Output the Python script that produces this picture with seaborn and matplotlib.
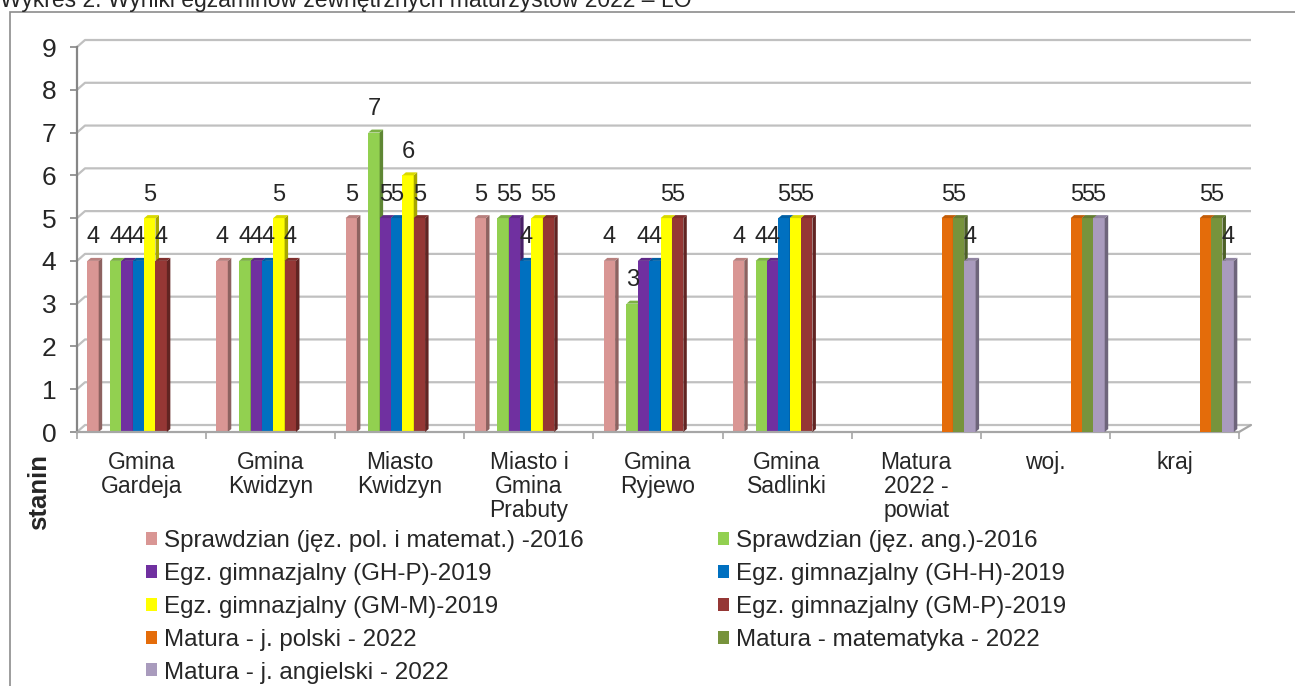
import seaborn as sns
import matplotlib.pyplot as plt
import matplotlib.colors as mcolors
from matplotlib.patches import Patch, Polygon, Rectangle
import pandas as pd
import numpy as np

# Data (stanin per area, NaN = no bar)
areas = ['Gmina Gardeja', 'Gmina Kwidzyn', 'Miasto Kwidzyn', 'Miasto i Gmina Prabuty',
         'Gmina Ryjewo', 'Gmina Sadlinki', 'Matura 2022 - powiat', 'woj.', 'kraj']
tick_labels = ['Gmina\nGardeja', 'Gmina\nKwidzyn', 'Miasto\nKwidzyn', 'Miasto i\nGmina\nPrabuty',
               'Gmina\nRyjewo', 'Gmina\nSadlinki', 'Matura\n2022 -\npowiat', 'woj.', 'kraj']

series = ['Sprawdzian (jęz. pol. i matemat.) -2016', 'Sprawdzian (jęz. ang.)-2016',
          'Egz. gimnazjalny (GH-P)-2019', 'Egz. gimnazjalny (GH-H)-2019',
          'Egz. gimnazjalny (GM-M)-2019', 'Egz. gimnazjalny (GM-P)-2019',
          'Matura - j. polski - 2022', 'Matura - matematyka - 2022', 'Matura - j. angielski - 2022']
colors = ['#D99694', '#92D050', '#7030A0', '#0070C0', '#FFFF00', '#953735',
          '#E46C0A', '#77933C', '#A99BBD']

nan = np.nan
spr_pol = [4, 4, 5, 5, 4, 4, nan, nan, nan]
spr_ang = [4, 4, 7, 5, 3, 4, nan, nan, nan]
gh_p = [4, 4, 5, 5, 4, 4, nan, nan, nan]
gh_h = [4, 4, 5, 4, 4, 5, nan, nan, nan]
gm_m = [5, 5, 6, 5, 5, 5, nan, nan, nan]
gm_p = [4, 4, 5, 5, 5, 5, nan, nan, nan]
mat_pol = [nan, nan, nan, nan, nan, nan, 5, 5, 5]
mat_mat = [nan, nan, nan, nan, nan, nan, 5, 5, 5]
mat_ang = [nan, nan, nan, nan, nan, nan, 4, 5, 4]
values = [spr_pol, spr_ang, gh_p, gh_h, gm_m, gm_p, mat_pol, mat_mat, mat_ang]

rows = []
for name, vals in zip(series, values):
    for area, v in zip(areas, vals):
        rows.append({'area': area, 'series': name, 'stanin': v})
df = pd.DataFrame(rows).dropna()

sns.set_style('white')
plt.rcParams['font.family'] = ['Liberation Sans', 'DejaVu Sans']

W, H = 1295, 686
fig = plt.figure(figsize=(W / 100, H / 100), dpi=100)
ax = fig.add_axes([77 / W, (H - 432) / H, 1162 / W, 385 / H])

# Excel leaves an empty slot after the first series
blank = ' '
hue_order = [series[0], blank] + series[1:]
palette = dict(zip(series, colors))
palette[blank] = 'white'

sns.barplot(data=df, x='area', y='stanin', hue='series', order=areas, hue_order=hue_order,
            palette=palette, width=0.88, errorbar=None, legend=False, saturation=1,
            linewidth=0, ax=ax)

shift = 0.02
ax.set_xlim(-0.5 - shift, len(areas) - 0.5 - shift)
ax.set_ylim(0, 9)

# pseudo-3D faces on the bars
col_idx = {mcolors.to_hex(c): i for i, c in enumerate(colors)}
dx, dy = 0.027, 0.07
for p in list(ax.patches):
    h = p.get_height()
    if not np.isfinite(h) or h <= 0:
        continue
    i = col_idx[mcolors.to_hex(p.get_facecolor())]
    z = 2 + i * 0.1
    p.set_zorder(z)
    x0 = p.get_x()
    x1 = x0 + p.get_width()
    base = np.array(mcolors.to_rgb(colors[i]))
    side = Polygon([(x1, 0), (x1 + dx, dy), (x1 + dx, h + dy), (x1, h)],
                   facecolor=base * 0.65, edgecolor='none', zorder=z + 0.05)
    top = Polygon([(x0, h), (x0 + dx, h + dy), (x1 + dx, h + dy), (x1, h)],
                  facecolor=base * 0.85, edgecolor='none', zorder=z + 0.05)
    ax.add_patch(side)
    ax.add_patch(top)

for c in ax.containers:
    ax.bar_label(c, fmt='%g', padding=9, fontsize=17, zorder=5)

# back wall gridlines
xl, xr = ax.get_xlim()
gx = 8 / 129.1
gxr = 12 / 129.1
gy = 7 / 42.8
for v in range(10):
    ax.plot([xl, xl + gx, xr + gxr], [v, v + gy, v + gy], color='#C0C0C0', lw=1.6,
            zorder=0.5, clip_on=False, solid_capstyle='butt')
ax.plot([xr, xr + gxr], [0, gy], color='#A6A6A6', lw=1.6, zorder=0.6, clip_on=False)

ax.grid(False)
for s in ['top', 'right']:
    ax.spines[s].set_visible(False)
ax.spines['left'].set_color('#868686')
ax.spines['left'].set_linewidth(1.6)
ax.spines['bottom'].set_color('#A6A6A6')
ax.spines['bottom'].set_linewidth(1.6)

ax.set_yticks(range(10))
ax.tick_params(axis='y', direction='out', length=5, width=1.2, color='#868686',
               labelsize=19, pad=10, left=True)
ax.set_xticks(np.arange(len(areas)) - shift)
ax.set_xticklabels(tick_labels, fontsize=16.5, linespacing=1.05, va='top')
ax.set_xticks(np.arange(len(areas) + 1) - 0.5 - shift, minor=True)
ax.tick_params(axis='x', which='major', length=0, pad=14)
ax.tick_params(axis='x', which='minor', direction='out', length=5, width=1.2,
               color='#A6A6A6', bottom=True)
ax.set_xlabel('')
ax.set_ylabel('')

fig.text(39 / W, 1 - 492 / H, 'stanin', rotation=90, fontsize=18.5, fontweight='bold',
         ha='center', va='center')
fig.text(0, 1 - 7 / H, 'Wykres 2. Wyniki egzaminów zewnętrznych maturzystów 2022 – LO',
         fontsize=16.5, va='baseline', ha='left')
fig.add_artist(Rectangle((10 / W, -0.1), 1.2, 1.1 - 12 / H, transform=fig.transFigure,
                         fill=False, edgecolor='#8C8C8C', lw=1.2))

handles = [Patch(facecolor=c, edgecolor='none') for c in colors]
order = [0, 2, 4, 6, 8, 1, 3, 5, 7]
fig.legend([handles[i] for i in order], [series[i] for i in order],
           loc='upper left', bbox_to_anchor=(146 / W, 1 - 530 / H), ncol=2, frameon=False,
           fontsize=17.4, handlelength=0.45, handleheight=0.45, handletextpad=0.3,
           columnspacing=5.55, labelspacing=0.45, borderpad=0, borderaxespad=0)

fig.savefig('out.png', dpi=100)
